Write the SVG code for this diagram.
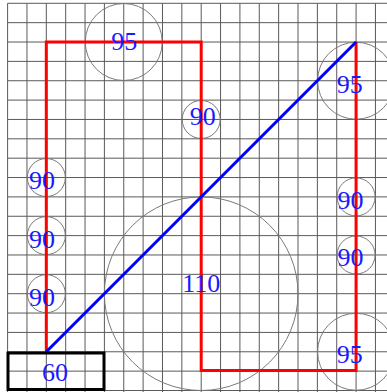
<svg xmlns="http://www.w3.org/2000/svg" width="387" height="392" viewBox="0 0 387 392">
<style>
.grid{stroke:#5a5a5a;stroke-width:1;fill:none}
.ring{fill:none;stroke:#7a7a7a;stroke-width:1}
.lbl{font-family:"Liberation Serif","Times New Roman",serif;font-size:26px;fill:#1a1aff;text-anchor:middle}
.red{fill:none;stroke:#ff0000;stroke-width:3;stroke-linejoin:miter}
.blue{fill:none;stroke:#0000ff;stroke-width:3}
</style>
<rect width="387" height="392" fill="#ffffff"/>
<g id="grid" class="grid">
<path d="M7.6,3.3V392M26.96,3.3V392M46.32,3.3V392M65.68,3.3V392M85.04,3.3V392M104.4,3.3V392M123.76,3.3V392M143.12,3.3V392M162.48,3.3V392M181.84,3.3V392M201.2,3.3V392M220.56,3.3V392M239.92,3.3V392M259.28,3.3V392M278.64,3.3V392M298,3.3V392M317.36,3.3V392M336.72,3.3V392M356.08,3.3V392M375.44,3.3V392"/>
<path d="M7.6,3.3H387M7.6,22.66H387M7.6,42.02H387M7.6,61.38H387M7.6,80.74H387M7.6,100.1H387M7.6,119.46H387M7.6,138.82H387M7.6,158.18H387M7.6,177.54H387M7.6,196.9H387M7.6,216.26H387M7.6,235.62H387M7.6,254.98H387M7.6,274.34H387M7.6,293.7H387M7.6,313.06H387M7.6,332.42H387M7.6,351.78H387M7.6,371.14H387M7.6,390.5H387"/>
</g>
<g id="circles">
<g id="c-top95"><circle class="ring" cx="123.76" cy="42.02" r="38.5"/></g>
<g id="c-mid90"><circle class="ring" cx="201.2" cy="119.46" r="19"/></g>
<g id="c-right95a"><circle class="ring" cx="356.08" cy="80.74" r="38.5"/></g>
<g id="c-left90a"><circle class="ring" cx="46.32" cy="177.54" r="19"/></g>
<g id="c-left90b"><circle class="ring" cx="46.32" cy="235.62" r="19"/></g>
<g id="c-left90c"><circle class="ring" cx="46.32" cy="293.7" r="19"/></g>
<g id="c-right90a"><circle class="ring" cx="356.08" cy="196.9" r="19"/></g>
<g id="c-right90b"><circle class="ring" cx="356.08" cy="254.98" r="19"/></g>
<g id="c-big110"><circle class="ring" cx="201.2" cy="293.7" r="96.8"/></g>
<g id="c-right95b"><circle class="ring" cx="356.08" cy="351.78" r="38.5"/></g>
</g>
<g id="connectors">
<path class="red" d="M46.32,351.78V42.02H201.2V370.5H356.08V42.02"/>
<path class="blue" d="M46.32,351.78L356.08,42.02"/>
</g>
<g id="box60"><rect x="8" y="353" width="96" height="36.5" fill="none" stroke="#000" stroke-width="3"/></g>
<g id="labels">
<text class="lbl" x="124.2" y="49.5">95</text>
<text class="lbl" x="202.8" y="124.5">90</text>
<text class="lbl" x="349.7" y="92.5">95</text>
<text class="lbl" x="42" y="188.8">90</text>
<text class="lbl" x="42" y="247.8">90</text>
<text class="lbl" x="42" y="305.5">90</text>
<text class="lbl" x="350.5" y="208.5">90</text>
<text class="lbl" x="350.5" y="266.2">90</text>
<text class="lbl" x="201.3" y="291.8">110</text>
<text class="lbl" x="349.7" y="362.5">95</text>
<text class="lbl" x="55" y="381.2">60</text>
</g>
</svg>
